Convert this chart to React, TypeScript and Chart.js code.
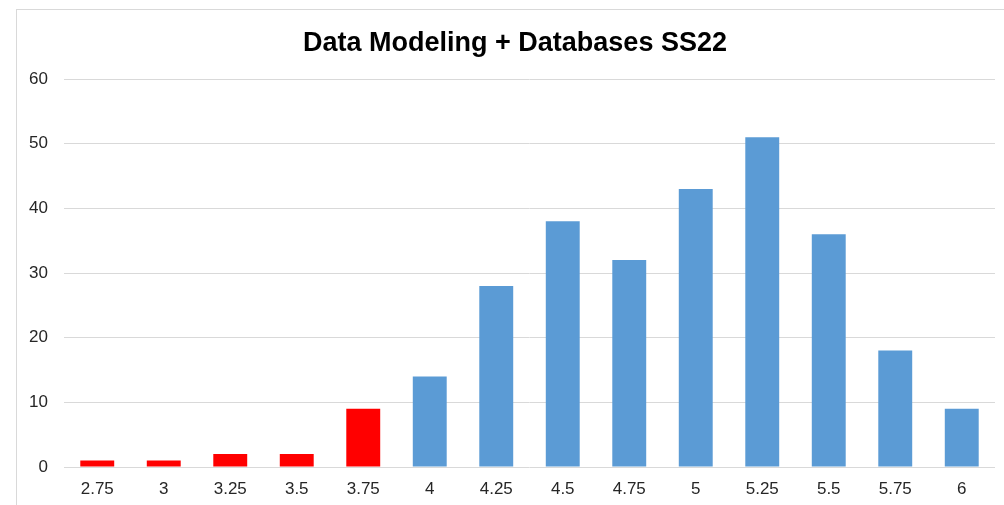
import React, { useEffect, useRef } from "react";
import { Chart, registerables } from "chart.js";

Chart.register(...registerables);

const categories = ["2.75", "3", "3.25", "3.5", "3.75", "4", "4.25", "4.5", "4.75", "5", "5.25", "5.5", "5.75", "6"];
const counts = [1, 1, 2, 2, 9, 14, 28, 38, 32, 43, 51, 36, 18, 9];
const failColor = "#FF0000";
const passColor = "#5B9BD5";
const failCount = 5;
const yTicks = [0, 10, 20, 30, 40, 50, 60];
const title = "Data Modeling + Databases SS22";

const titlePlugin = {
  id: "offsetTitle",
  afterDraw(chart: any) {
    const ctx = chart.ctx;
    ctx.save();
    ctx.font = "bold 27px 'Liberation Sans', Arial, sans-serif";
    ctx.fillStyle = "#000000";
    ctx.textAlign = "center";
    ctx.textBaseline = "alphabetic";
    ctx.fillText(title, 515, 50.5);
    ctx.restore();
  },
};

export default function App() {
  const ref = useRef<HTMLCanvasElement | null>(null);

  useEffect(() => {
    if (!ref.current) return;
    const colors = counts.map((_, i) => (i < failCount ? failColor : passColor));
    const chart = new Chart(ref.current, {
      type: "bar",
      data: {
        labels: categories,
        datasets: [
          {
            data: counts,
            backgroundColor: colors,
            borderWidth: 0,
            categoryPercentage: 1,
            barPercentage: 0.51,
          },
        ],
      },
      plugins: [titlePlugin],
      options: {
        animation: false,
        responsive: false,
        maintainAspectRatio: false,
        layout: { padding: { left: 0, right: 9, top: 79, bottom: 0 } },
        plugins: {
          legend: { display: false },
          tooltip: { enabled: false },
          title: { display: false },
        },
        scales: {
          x: {
            grid: { display: false, drawTicks: false },
            border: { display: false },
            ticks: {
              color: "#262626",
              font: { family: "'Liberation Sans', Arial, sans-serif", size: 17 },
              padding: 12,
              maxRotation: 0,
              autoSkip: false,
            },
            afterFit: (s: any) => {
              s.height = 38;
            },
          },
          y: {
            min: 0,
            max: 60,
            afterBuildTicks: (s: any) => {
              s.ticks = yTicks.map((v) => ({ value: v }));
            },
            grid: { color: "#d9d9d9", lineWidth: 1, drawTicks: false },
            border: { display: false },
            ticks: {
              color: "#262626",
              font: { family: "'Liberation Sans', Arial, sans-serif", size: 17 },
              padding: 16,
            },
            afterFit: (s: any) => {
              s.width = 64;
            },
          },
        },
      },
    });
    return () => chart.destroy();
  }, []);

  return (
    <div
      style={{
        position: "fixed",
        left: 0,
        top: 0,
        width: 1004,
        height: 505,
        overflow: "hidden",
        background: "#ffffff",
      }}
    >
      <div
        style={{
          position: "absolute",
          left: 16,
          top: 9,
          width: 1010,
          height: 520,
          border: "1px solid #d9d9d9",
          boxSizing: "border-box",
        }}
      />
      <canvas
        ref={ref}
        width={1004}
        height={505}
        style={{ position: "absolute", left: 0, top: 0, width: 1004, height: 505 }}
      />
    </div>
  );
}
